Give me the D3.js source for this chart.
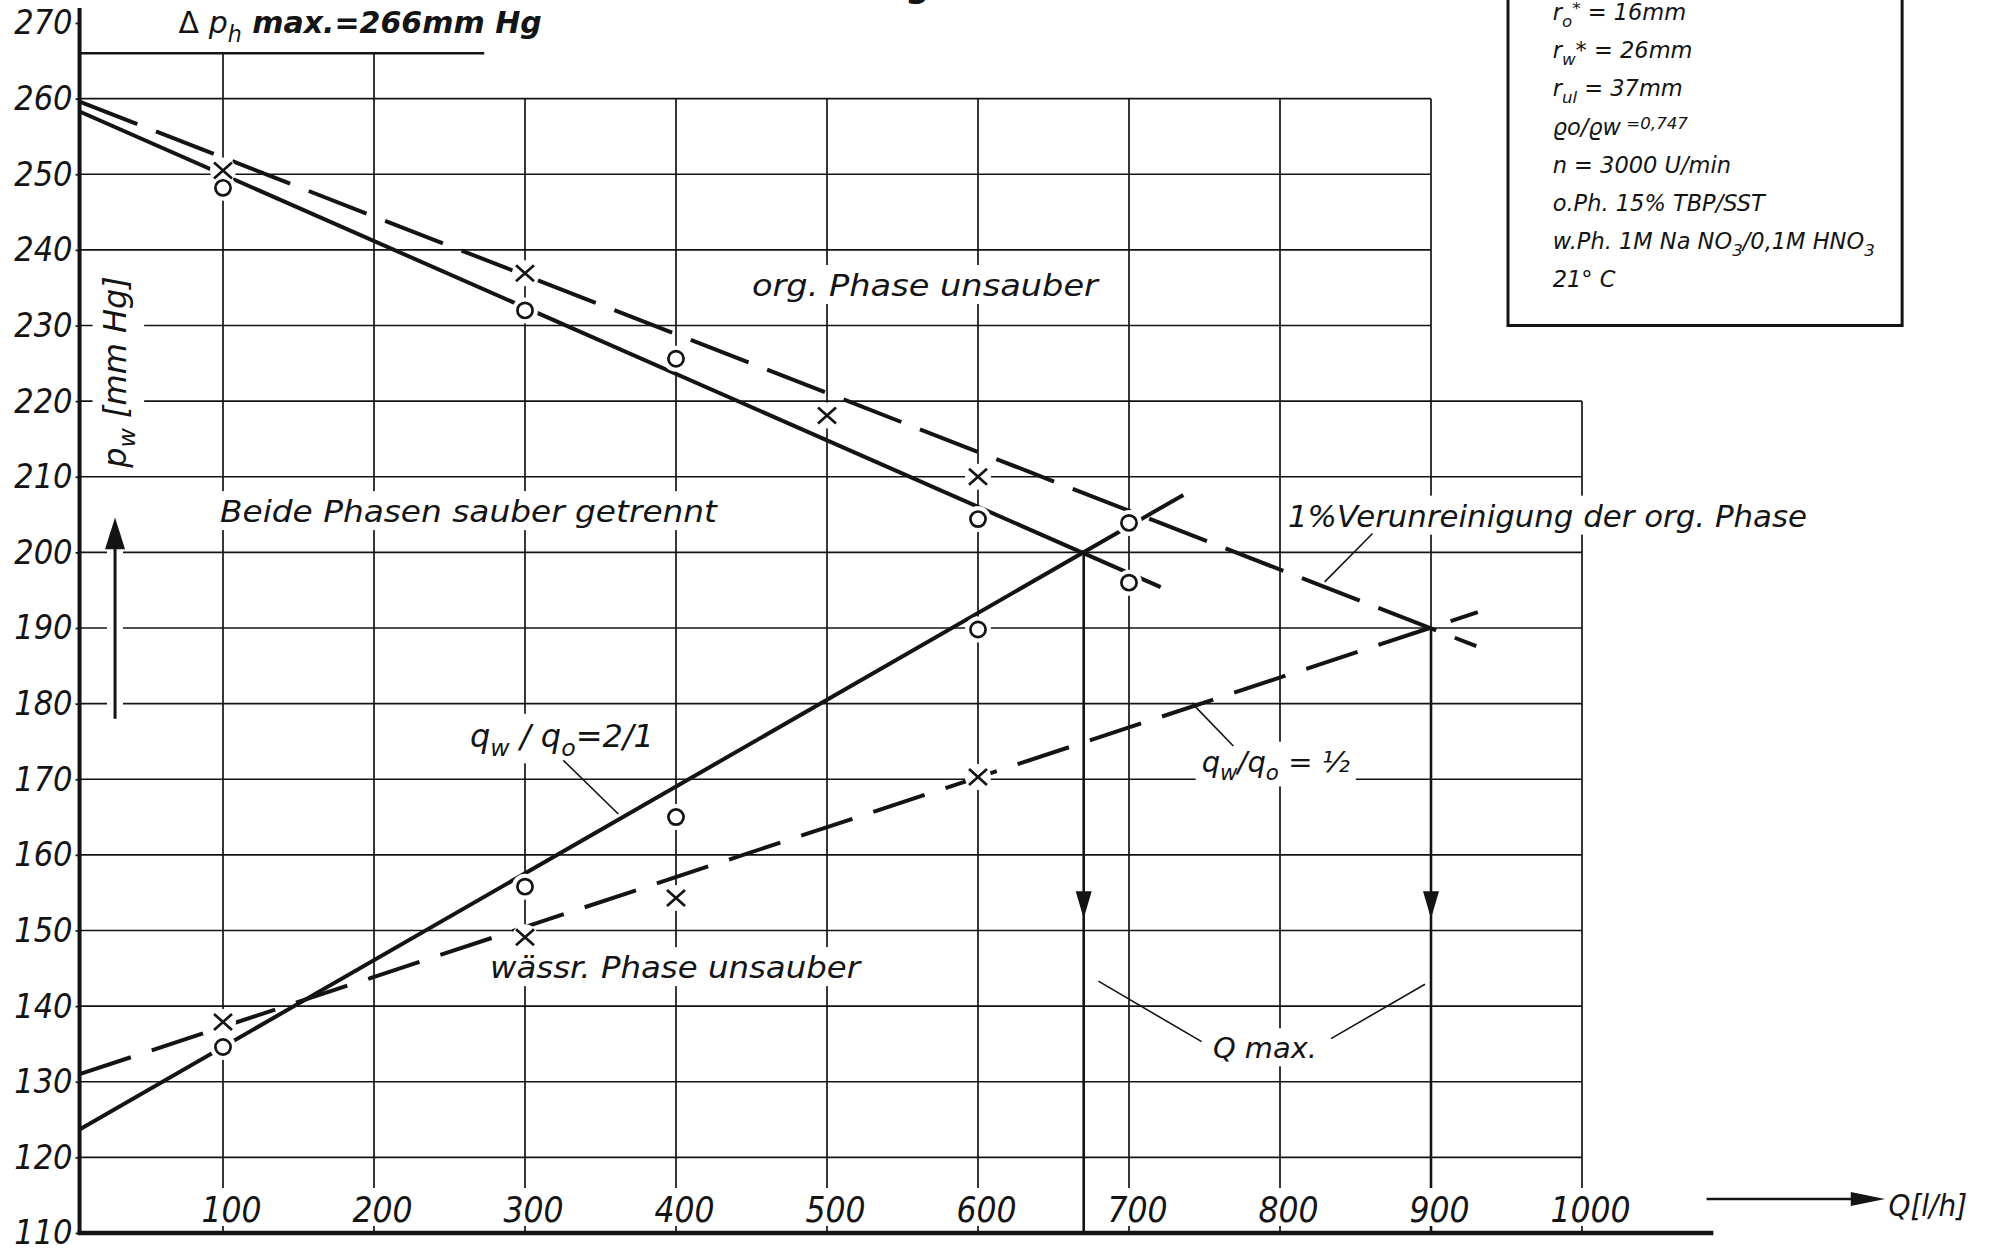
<!DOCTYPE html>
<head>
    <meta charset="utf-8">
    <title>pw über Q</title>
    <script src="https://d3js.org/d3.v7.min.js"></script>
    <style>

    body {
        margin: 0;
        background: #fff;
    }
    svg { display: block; }
    text {
        font-family: "DejaVu Sans", sans-serif;
        font-style: italic;
        fill: #141414;
    }
    .narrow text, text.narrow {
        font-family: "Liberation Sans Narrow", "DejaVu Sans Condensed", sans-serif;
    }

    </style>
</head>

<body>
    <script>
    // Achsen
    var qTicks = [100, 200, 300, 400, 500, 600, 700, 800, 900, 1000];
    var pTicks = [110, 120, 130, 140, 150, 160, 170, 180, 190, 200, 210, 220, 230, 240, 250, 260, 270];

    // Messpunkte  o
    var circleQ = [100, 300, 400, 600, 700, 700, 600, 400, 300, 100];
    var circleP = [248.2, 232.0, 225.6, 204.4, 203.9, 196.0, 189.8, 165.0, 155.8, 134.6];
    // Messpunkte  x
    var crossQ = [100, 300, 500, 600, 600, 400, 300, 100];
    var crossP = [250.5, 236.9, 218.1, 210.0, 170.3, 154.3, 149.1, 137.9];

    // Grenzkurven (Anfang, Ende)
    var orgSolid  = [[5, 258.3], [721, 195.4]];
    var orgDashed = [[5, 259.6], [930, 187.6]];
    var wSolid    = [[5, 123.7], [736, 207.6]];
    var wDashed   = [[5, 131.0], [931, 192.1]];

    var qMax = [670, 900];
    var qMaxFrom = [200, 190];
    var phMax = 266;

    var width = 1998,
        height = 1251,
        ink = "#141414",
        q0 = 5;

    var x = d3.scaleLinear().domain([0, 1000]).range([72, 1582]),
        y = d3.scaleLinear().domain([110, 270]).range([1233, 23]);

    var svg = d3.select("body").append("svg")
        .attr("width", width)
        .attr("height", height);

    // Raster
    var grid = svg.append("g").attr("stroke", ink).attr("stroke-width", 1.7);
    grid.append("g").selectAll("line")
        .data(pTicks.filter(function(p) { return p > 110 && p < 270; }))
        .join("line")
        .attr("x1", x(q0))
        .attr("x2", function(p) { return x(p >= 230 ? 900 : 1000); })
        .attr("y1", function(p) { return y(p); })
        .attr("y2", function(p) { return y(p); });
    grid.append("g").selectAll("line")
        .data(qTicks)
        .join("line")
        .attr("x1", function(q) { return x(q); })
        .attr("x2", function(q) { return x(q); })
        .attr("y1", function(q) { return y(q <= 200 ? phMax : (q === 1000 ? 220 : 260)); })
        .attr("y2", y(110));
    svg.append("line")
        .attr("x1", x(q0)).attr("x2", x(273))
        .attr("y1", y(phMax)).attr("y2", y(phMax))
        .attr("stroke", ink).attr("stroke-width", 2.6);

    // Qmax
    qMax.forEach(function(q, i) {
        svg.append("line")
            .attr("x1", x(q)).attr("x2", x(q))
            .attr("y1", y(qMaxFrom[i])).attr("y2", y(110))
            .attr("stroke", ink).attr("stroke-width", 2.6);
        svg.append("path")
            .attr("d", d3.line()([[x(q) - 8, y(155.2)], [x(q) + 8, y(155.2)], [x(q), y(151.6)]]) + "Z")
            .attr("fill", ink);
    });

    // Legende
    var legendLines = [
        [["r"], ["o", "sub"], ["*", "sup"], ["  = 16mm"]],
        [["r"], ["w", "sub"], ["*"], [" = 26mm"]],
        [["r"], ["ul", "sub"], ["   = 37mm"]],
        [["ϱo/ϱw"], [" =0,747", "sup"]],
        [["n = 3000 U/min"]],
        [["o.Ph. 15% TBP/SST"]],
        [["w.Ph. 1M  Na NO"], ["3", "sub"], ["/0,1M HNO"], ["3", "sub"]],
        [["21° C"]]
    ];

    function fill(t, parts, size) {
        var shift = 0;
        parts.forEach(function(pt) {
            var s = pt[1] === "sub" ? 0.3 * size : (pt[1] === "sup" ? -0.25 * size : 0);
            t.append("tspan")
                .attr("dy", s - shift)
                .style("font-size", pt[1] ? (0.74 * size) + "px" : null)
                .style("font-weight", pt[2] || null)
                .text(pt[0]);
            shift = s;
        });
    }

    svg.append("rect")
        .attr("x", x(951)).attr("y", -20)
        .attr("width", x(1212) - x(951)).attr("height", y(230) + 20)
        .attr("fill", "none").attr("stroke", ink).attr("stroke-width", 3);
    legendLines.forEach(function(parts, i) {
        var t = svg.append("text")
            .attr("x", x(980.6))
            .attr("y", 20 + i * 38.2)
            .style("font-size", "22.5px");
        fill(t, parts, 22.5);
    });

    // Achsen
    svg.append("line")
        .attr("x1", x(q0)).attr("x2", x(q0))
        .attr("y1", y(272)).attr("y2", y(110))
        .attr("stroke", ink).attr("stroke-width", 4);

    var yAxis = svg.append("g")
        .attr("class", "narrow")
        .attr("transform", "translate(" + x(q0) + ",0)")
        .call(d3.axisLeft(y).tickValues(pTicks).tickSize(4).tickPadding(3).tickFormat(d3.format("d")));
    yAxis.select(".domain").remove();
    yAxis.selectAll(".tick line").attr("stroke", ink).attr("stroke-width", 1.7);
    yAxis.selectAll("text")
        .attr("fill", ink)
        .style("font-size", "34px");

    var xAxis = svg.append("g")
        .attr("class", "narrow")
        .attr("transform", "translate(0," + y(110) + ")")
        .call(d3.axisTop(x).tickValues(qTicks).tickSize(0).tickPadding(11).tickFormat(d3.format("d")));
    xAxis.select(".domain").remove();
    xAxis.selectAll(".tick text")
        .attr("x", 8)
        .attr("fill", ink)
        .style("font-size", "35px");
    xAxis.selectAll(".tick").each(function() {
        var tick = d3.select(this),
            b = tick.select("text").node().getBBox();
        tick.insert("rect", "text")
            .attr("x", b.x - 4).attr("y", b.y - 2)
            .attr("width", b.width + 8).attr("height", b.height - 2)
            .attr("fill", "#fff");
    });
    svg.selectAll(".narrow text").attr("font-family", null);

    svg.append("line")
        .attr("x1", x(q0) - 2).attr("x2", x(1087))
        .attr("y1", y(110)).attr("y2", y(110))
        .attr("stroke", ink).attr("stroke-width", 4.5);

    // Pfeil an der Abszisse
    svg.append("line")
        .attr("x1", x(1082.5)).attr("x2", x(1185))
        .attr("y1", y(114.5)).attr("y2", y(114.5))
        .attr("stroke", ink).attr("stroke-width", 2.5);
    svg.append("path")
        .attr("d", d3.line()([[x(1178), y(114.5) - 7], [x(1200.7), y(114.5)], [x(1178), y(114.5) + 7]]) + "Z")
        .attr("fill", ink);
    svg.append("text")
        .attr("class", "narrow")
        .attr("x", x(1203)).attr("y", y(112.2))
        .style("font-size", "31px")
        .text("Q[l/h]");

    // Grenzkurven
    var line = d3.line()
        .x(function(d) { return x(d[0]); })
        .y(function(d) { return y(d[1]); });
    var curves = svg.append("g")
        .attr("fill", "none")
        .attr("stroke", ink)
        .attr("stroke-width", 4)
        .attr("stroke-linecap", "butt");
    curves.append("path").attr("d", line(orgSolid));
    curves.append("path").attr("d", line(wSolid));
    curves.append("path").attr("d", line(orgDashed)).attr("stroke-dasharray", "62 20");
    curves.append("path").attr("d", line(wDashed)).attr("stroke-dasharray", "54 22");

    // Messpunkte
    var pts = svg.append("g");
    var circles = circleQ.map(function(q, i) { return [q, circleP[i]]; }),
        crosses = crossQ.map(function(q, i) { return [q, crossP[i]]; });
    pts.selectAll("circle.halo")
        .data(circles.concat(crosses))
        .join("circle")
        .attr("cx", function(d) { return x(d[0]); })
        .attr("cy", function(d) { return y(d[1]); })
        .attr("r", 13)
        .attr("fill", "#fff");
    pts.append("g").selectAll("circle")
        .data(circles)
        .join("circle")
        .attr("cx", function(d) { return x(d[0]); })
        .attr("cy", function(d) { return y(d[1]); })
        .attr("r", 7.6)
        .attr("fill", "#fff")
        .attr("stroke", ink)
        .attr("stroke-width", 2.7);
    pts.append("g").selectAll("path")
        .data(crosses)
        .join("path")
        .attr("d", function(d) {
            var cx = x(d[0]), cy = y(d[1]);
            return "M" + (cx - 9) + "," + (cy - 8) + "L" + (cx + 9) + "," + (cy + 8) +
                   "M" + (cx - 9) + "," + (cy + 8) + "L" + (cx + 9) + "," + (cy - 8);
        })
        .attr("stroke", ink)
        .attr("stroke-width", 2.7);

    // Beschriftungen
    function note(parts, q, p, size, len, bg) {
        var g = svg.append("g");
        var t = g.append("text")
            .attr("x", x(q)).attr("y", y(p))
            .style("font-size", size + "px");
        fill(t, parts, size);
        if (len) t.attr("textLength", len).attr("lengthAdjust", "spacingAndGlyphs");
        if (bg) {
            var b = t.node().getBBox();
            g.insert("rect", "text")
                .attr("x", b.x - 6).attr("y", b.y - 3)
                .attr("width", b.width + 12).attr("height", b.height + 4)
                .attr("fill", "#fff");
        }
        return t;
    }

    note([["Δ", null], [" p"], ["h", "sub"], ["   max.=266mm Hg", null, "bold"]], 70.6, 268.7, 30, 0, false)
        .select("tspan").style("font-style", "normal");
    note([["org. Phase unsauber"]], 450.3, 233.9, 30, 346, true);
    note([["Beide Phasen sauber getrennt"]], 98, 204.0, 30, 497, true);
    note([["1%Verunreinigung der org. Phase"]], 805.3, 203.4, 30, 519, true);
    note([["wässr. Phase unsauber"]], 276.8, 143.7, 30, 370, true);
    note([["Q max."]], 755.6, 133.1, 29, 104, true);
    note([["q"], ["w", "sub"], [" / "], ["q"], ["o", "sub"], ["=2/1"]], 263.6, 174.3, 32, 0, true);
    note([["q"], ["w", "sub"], ["/"], ["q"], ["o", "sub"], [" = ½"]], 748.1, 171.0, 29, 0, true);
    note([["g"]], 551.7, 273.4, 34, 0, false).style("font-style", "normal").style("font-weight", "bold");

    // Hinweislinien
    var leaders = [
        [[325.4, 172.5], [361.8, 165.4]],
        [[741.5, 180.1], [769.1, 174.4]],
        [[861.3, 202.5], [829.6, 196.1]],
        [[679.7, 143.3], [748.1, 135.3]],
        [[896.0, 142.9], [833.8, 135.7]]
    ];
    svg.append("g").selectAll("path")
        .data(leaders)
        .join("path")
        .attr("d", line)
        .attr("fill", "none")
        .attr("stroke", ink)
        .attr("stroke-width", 1.6);

    // Ordinatentitel mit Pfeil
    var yt = svg.append("g")
        .attr("transform", "translate(" + (x(q0) + 46) + "," + 372 + ") rotate(-90)");
    var ytText = yt.append("text")
        .attr("text-anchor", "middle")
        .style("font-size", "32px");
    fill(ytText, [["p"], ["w", "sub"], ["  [mm Hg]"]], 32);
    var yb = ytText.node().getBBox();
    yt.insert("rect", "text")
        .attr("x", yb.x - 5).attr("y", yb.y - 3)
        .attr("width", yb.width + 10).attr("height", yb.height + 6)
        .attr("fill", "#fff");

    svg.append("line")
        .attr("x1", x(28.5)).attr("x2", x(28.5))
        .attr("y1", y(178)).attr("y2", y(204.3))
        .attr("stroke", "#fff").attr("stroke-width", 16);
    svg.append("line")
        .attr("x1", x(28.5)).attr("x2", x(28.5))
        .attr("y1", y(178)).attr("y2", y(200.5))
        .attr("stroke", ink).attr("stroke-width", 3);
    svg.append("path")
        .attr("d", d3.line()([[x(28.5) - 10, y(200.4)], [x(28.5) + 10, y(200.4)], [x(28.5), y(204.6)]]) + "Z")
        .attr("fill", ink);

    </script>
</body>
